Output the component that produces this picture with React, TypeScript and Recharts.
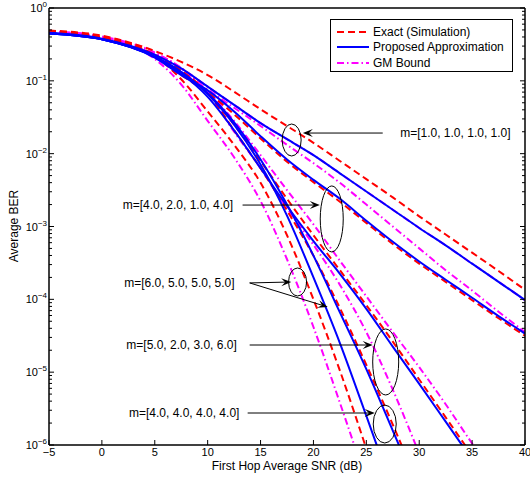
import React from 'react'
import { LineChart, Line, XAxis, YAxis, ReferenceDot, ReferenceLine } from 'recharts'

// first hop average SNR (dB), shared by all curves
const SNR_DB = [-5, 0, 5, 7.5, 10, 12.5, 15, 17.5, 20, 22.5, 25, 27.5, 30, 32.5, 35, 37.5, 40]

// m=[1.0, 1.0, 1.0, 1.0]
const EXACT_A = [0.49, 0.417, 0.257, 0.182, 0.12, 0.0708, 0.0407, 0.024, 0.0141, 0.00794, 0.00447, 0.00251, 0.00138, 0.000776, 0.000437, 0.000245, 0.000135]
const APPROX_A = [0.457, 0.38, 0.229, 0.148, 0.0832, 0.0468, 0.0263, 0.0158, 0.00955, 0.00537, 0.00302, 0.0017, 0.000955, 0.00055, 0.000309, 0.000174, 0.0000977]
const GM_A = [0.457, 0.38, 0.229, 0.148, 0.0832, 0.0468, 0.0263, 0.0158, 0.00955, 0.00537, 0.00302, 0.0017, 0.000955, 0.00055, 0.000309, 0.000174, 0.0000977]

// m=[4.0, 2.0, 1.0, 4.0]
const EXACT_B = [0.479, 0.389, 0.219, 0.12, 0.0692, 0.0347, 0.0162, 0.00776, 0.00407, 0.00219, 0.00112, 0.000575, 0.000309, 0.000174, 0.0000977, 0.000055, 0.0000316]
const APPROX_B = [0.447, 0.372, 0.209, 0.12, 0.0741, 0.038, 0.0174, 0.00832, 0.00437, 0.0024, 0.0012, 0.000617, 0.000331, 0.000186, 0.000105, 0.0000589, 0.0000339]
const GM_B = [0.468, 0.38, 0.214, 0.132, 0.0759, 0.0427, 0.024, 0.0132, 0.00741, 0.00398, 0.002, 0.001, 0.000501, 0.000251, 0.000132, 0.0000676, 0.0000355]

// m=[6.0, 5.0, 5.0, 5.0]
const EXACT_C = [0.479, 0.398, 0.219, 0.105, 0.038, 0.0132, 0.00398, 0.000759, 0.0001, 0.0000105, 8.9e-7]
const APPROX_C = [0.447, 0.372, 0.214, 0.132, 0.0661, 0.0251, 0.00708, 0.00141, 0.0002, 0.0000251, 2.51e-6, 2.4e-7]
const GM_C = [0.468, 0.389, 0.2, 0.0891, 0.0282, 0.00891, 0.00224, 0.000355, 0.0000417, 3.8e-6, 3.2e-7]

// m=[5.0, 2.0, 3.0, 6.0]
const EXACT_D = [0.468, 0.389, 0.229, 0.138, 0.0676, 0.0251, 0.00794, 0.0024, 0.000759, 0.000251, 0.0000832, 0.0000263, 7.94e-6, 2.4e-6, 7.2e-7]
const APPROX_D = [0.447, 0.372, 0.214, 0.126, 0.0603, 0.0209, 0.00631, 0.00191, 0.000631, 0.000224, 0.0000741, 0.0000224, 6.92e-6, 2.09e-6, 6.3e-7]
const GM_D = [0.468, 0.398, 0.24, 0.151, 0.0708, 0.0282, 0.00955, 0.00316, 0.00107, 0.000339, 0.00011, 0.0000355, 0.0000117, 3.63e-6, 1.05e-6, 3.2e-7]

// m=[4.0, 4.0, 4.0, 4.0]
const EXACT_E = [0.468, 0.389, 0.224, 0.135, 0.068, 0.0209, 0.00631, 0.00166, 0.000398, 0.0000759, 0.0000126, 1.91e-6, 2.6e-7]
const APPROX_E = [0.447, 0.372, 0.214, 0.132, 0.0676, 0.0269, 0.00832, 0.002, 0.000398, 0.0000661, 0.000011, 1.58e-6, 2.2e-7]
const GM_E = [0.479, 0.407, 0.245, 0.148, 0.069, 0.02, 0.00631, 0.00178, 0.000562, 0.000158, 0.0000355, 5.75e-6, 7.6e-7]

const X_TICKS = [-5, 0, 5, 10, 15, 20, 25, 30, 35, 40]
const Y_MAJOR = [1e-6, 1e-5, 1e-4, 1e-3, 1e-2, 1e-1, 1]
const Y_MINOR: number[] = []
for (let e = -6; e < 0; e++) for (let k = 2; k <= 9; k++) Y_MINOR.push(k * Math.pow(10, e))
const Y_TICKS = [...Y_MAJOR, ...Y_MINOR]

const LEGEND_LABELS = ['Exact (Simulation)', 'Proposed Approximation', 'GM Bound']

const CASE_LABELS = [
  { text: 'm=[1.0, 1.0, 1.0, 1.0]', snr: 28.2, ber: 0.0192, anchor: 'start' },
  { text: 'm=[4.0, 2.0, 1.0, 4.0]', snr: 12.4, ber: 0.00197, anchor: 'end' },
  { text: 'm=[6.0, 5.0, 5.0, 5.0]', snr: 12.55, ber: 0.000168, anchor: 'end' },
  { text: 'm=[5.0, 2.0, 3.0, 6.0]', snr: 12.75, ber: 0.0000236, anchor: 'end' },
  { text: 'm=[4.0, 4.0, 4.0, 4.0]', snr: 13.0, ber: 0.00000275, anchor: 'end' },
]

const ARROWS = [
  { from: [26.55, 0.0192], to: [19.0, 0.0192] },
  { from: [13.3, 0.00197], to: [20.6, 0.00197] },
  { from: [13.97, 0.000168], to: [17.9, 0.000173] },
  { from: [13.97, 0.000168], to: [21.35, 0.0000785] },
  { from: [13.97, 0.0000236], to: [25.6, 0.0000236] },
  { from: [13.78, 0.00000275], to: [25.8, 0.00000275] },
]

const ELLIPSES = [
  { snr: 17.94, ber: 0.0154, rx: 9.5, ry: 16 },
  { snr: 21.73, ber: 0.00127, rx: 11.5, ry: 33 },
  { snr: 18.5, ber: 0.000173, rx: 9, ry: 14 },
  { snr: 26.83, ber: 0.0000138, rx: 13, ry: 33 },
  { snr: 26.74, ber: 0.00000194, rx: 11.5, ry: 19 },
]

const STYLES: Record<string, { stroke: string; dash?: string }> = {
  exact: { stroke: '#ff0000', dash: '7 4' },
  approx: { stroke: '#0000ff' },
  gm: { stroke: '#ff00ff', dash: '7 3 1.5 3' },
}

const SERIES = [
  { id: 'gm-a', kind: 'gm', values: GM_A },
  { id: 'gm-b', kind: 'gm', values: GM_B },
  { id: 'gm-c', kind: 'gm', values: GM_C },
  { id: 'gm-d', kind: 'gm', values: GM_D },
  { id: 'gm-e', kind: 'gm', values: GM_E },
  { id: 'ex-a', kind: 'exact', values: EXACT_A },
  { id: 'ex-b', kind: 'exact', values: EXACT_B },
  { id: 'ex-c', kind: 'exact', values: EXACT_C },
  { id: 'ex-d', kind: 'exact', values: EXACT_D },
  { id: 'ex-e', kind: 'exact', values: EXACT_E },
  { id: 'ap-a', kind: 'approx', values: APPROX_A },
  { id: 'ap-b', kind: 'approx', values: APPROX_B },
  { id: 'ap-c', kind: 'approx', values: APPROX_C },
  { id: 'ap-d', kind: 'approx', values: APPROX_D },
  { id: 'ap-e', kind: 'approx', values: APPROX_E },
]

const toPoints = (values: number[]) => values.map((ber, i) => ({ snr: SNR_DB[i], ber }))

const minus = (v: number) => (v < 0 ? '\u2212' + Math.abs(v) : String(v))

const BottomTick = (p: any) => (
  <g>
    <line x1={p.x} y1={p.y} x2={p.x} y2={p.y - 5} stroke="#000" />
    <text x={p.x} y={p.y + 11} textAnchor="middle" fontSize={11} fill="#000">
      {minus(p.payload.value)}
    </text>
  </g>
)

const TopTick = (p: any) => <line x1={p.x} y1={p.y} x2={p.x} y2={p.y + 5} stroke="#000" />

const LeftTick = (p: any) => {
  const v = p.payload.value
  const major = Y_MAJOR.includes(v)
  const exp = Math.round(Math.log10(v))
  return (
    <g>
      <line x1={p.x} y1={p.y} x2={p.x + (major ? 5 : 3)} y2={p.y} stroke="#000" />
      {major && (
        <text x={p.x - 2} y={p.y + 4} textAnchor="end" fontSize={11} fill="#000">
          <tspan>10</tspan>
          <tspan dy={-5} fontSize={8}>{minus(exp)}</tspan>
        </text>
      )}
    </g>
  )
}

const RightTick = (p: any) => {
  const major = Y_MAJOR.includes(p.payload.value)
  return <line x1={p.x} y1={p.y} x2={p.x - (major ? 5 : 3)} y2={p.y} stroke="#000" />
}

const arrowShape = (p: any) => {
  const { x1, y1, x2, y2 } = p
  const a = Math.atan2(y2 - y1, x2 - x1)
  const L = 10
  const W = 4
  const bx = x2 - L * Math.cos(a)
  const by = y2 - L * Math.sin(a)
  const nx = x2 - 0.6 * L * Math.cos(a)
  const ny = y2 - 0.6 * L * Math.sin(a)
  const px = -Math.sin(a) * W
  const py = Math.cos(a) * W
  return (
    <g>
      <line x1={x1} y1={y1} x2={nx} y2={ny} stroke="#000" strokeWidth={1} />
      <polygon
        points={`${x2},${y2} ${bx + px},${by + py} ${nx},${ny} ${bx - px},${by - py}`}
        fill="#000"
      />
    </g>
  )
}

export default function App() {
  const axisLine = { stroke: '#000', strokeWidth: 1.5 }
  return (
    <div
      style={{
        position: 'absolute',
        left: 0,
        top: 0,
        width: 530,
        height: 478,
        background: '#fff',
        fontFamily: '"Liberation Sans", Arial, Helvetica, sans-serif',
      }}
    >
      <LineChart width={530} height={478} margin={{ top: 0, right: 0, bottom: 0, left: 0 }}>
        <XAxis
          dataKey="snr"
          type="number"
          domain={[-5, 40]}
          ticks={X_TICKS}
          interval={0}
          allowDataOverflow
          height={33}
          tickSize={0}
          tickMargin={0}
          tickLine={false}
          axisLine={axisLine}
          tick={BottomTick}
        />
        <XAxis
          xAxisId="top"
          orientation="top"
          type="number"
          domain={[-5, 40]}
          ticks={X_TICKS}
          interval={0}
          allowDataOverflow
          height={8}
          tickSize={0}
          tickMargin={0}
          tickLine={false}
          axisLine={axisLine}
          tick={TopTick}
        />
        <YAxis
          type="number"
          scale="log"
          domain={[1e-6, 1]}
          ticks={Y_TICKS}
          interval={0}
          allowDataOverflow
          width={49}
          tickSize={0}
          tickMargin={0}
          tickLine={false}
          axisLine={axisLine}
          tick={LeftTick}
        />
        <YAxis
          yAxisId="right"
          orientation="right"
          type="number"
          scale="log"
          domain={[1e-6, 1]}
          ticks={Y_TICKS}
          interval={0}
          allowDataOverflow
          width={5}
          tickSize={0}
          tickMargin={0}
          tickLine={false}
          axisLine={axisLine}
          tick={RightTick}
        />
        {SERIES.map((s) => (
          <Line
            key={s.id}
            data={toPoints(s.values)}
            dataKey="ber"
            type="monotone"
            stroke={STYLES[s.kind].stroke}
            strokeDasharray={STYLES[s.kind].dash}
            strokeWidth={2}
            dot={false}
            activeDot={false}
            isAnimationActive={false}
          />
        ))}
        {ELLIPSES.map((e, i) => (
          <ReferenceDot
            key={'el' + i}
            x={e.snr}
            y={e.ber}
            r={1}
            shape={(p: any) => (
              <ellipse cx={p.cx} cy={p.cy} rx={e.rx} ry={e.ry} fill="none" stroke="#000" strokeWidth={1} />
            )}
          />
        ))}
        {ARROWS.map((a, i) => (
          <ReferenceLine
            key={'ar' + i}
            segment={[
              { x: a.from[0], y: a.from[1] },
              { x: a.to[0], y: a.to[1] },
            ]}
            shape={arrowShape}
          />
        ))}
        {CASE_LABELS.map((l, i) => (
          <ReferenceDot
            key={'lb' + i}
            x={l.snr}
            y={l.ber}
            r={1}
            shape={(p: any) => (
              <text x={p.cx} y={p.cy} dy="0.35em" textAnchor={l.anchor} fontSize={12} fill="#000">
                {l.text}
              </text>
            )}
          />
        ))}
      </LineChart>

      <div
        style={{
          position: 'absolute',
          left: 287,
          top: 466,
          transform: 'translate(-50%, -50%)',
          fontSize: 12,
          whiteSpace: 'nowrap',
          lineHeight: 1,
        }}
      >
        First Hop Average SNR (dB)
      </div>
      <div
        style={{
          position: 'absolute',
          left: 14,
          top: 226,
          transform: 'translate(-50%, -50%) rotate(-90deg)',
          fontSize: 12,
          whiteSpace: 'nowrap',
          lineHeight: 1,
        }}
      >
        Average BER
      </div>

      <div
        style={{
          position: 'absolute',
          left: 330,
          top: 19,
          width: 183,
          height: 53,
          border: '1px solid #000',
          boxSizing: 'border-box',
          background: '#fff',
          fontSize: 12,
        }}
      >
        {['exact', 'approx', 'gm'].map((k, i) => (
          <div
            key={k}
            style={{ position: 'absolute', left: 6, top: 4 + i * 15.5, height: 15, display: 'flex', alignItems: 'center' }}
          >
            <svg width={32} height={6}>
              <line x1={0} y1={3} x2={32} y2={3} stroke={STYLES[k].stroke} strokeWidth={2} strokeDasharray={STYLES[k].dash} />
            </svg>
            <span style={{ marginLeft: 4, whiteSpace: 'nowrap' }}>{LEGEND_LABELS[i]}</span>
          </div>
        ))}
      </div>
    </div>
  )
}
